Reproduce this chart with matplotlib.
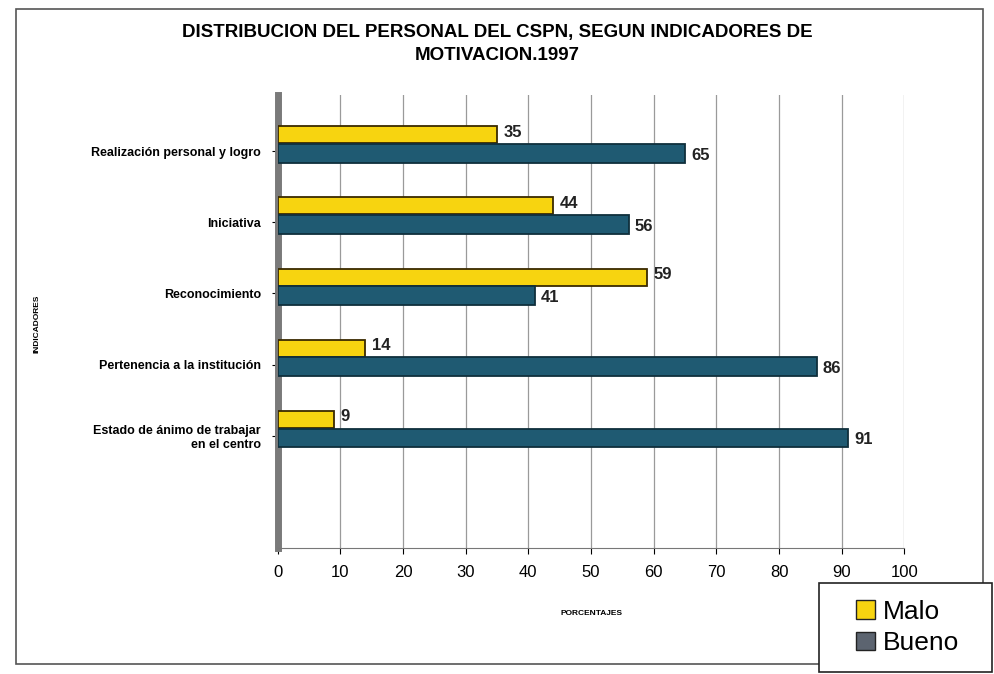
import matplotlib.pyplot as plt
import matplotlib.patches as mpatches
import numpy as np

plt.rcParams['font.family'] = ['Liberation Sans Narrow', 'Liberation Sans', 'DejaVu Sans']

categorias = ["Realización personal y logro", "Iniciativa", "Reconocimiento",
              "Pertenencia a la institución", "Estado de ánimo de trabajar\nen el centro"]
malo = [35, 44, 59, 14, 9]
bueno = [65, 56, 41, 86, 91]
ticks_x = list(range(0, 101, 10))

fig = plt.figure(figsize=(9.95, 6.74), dpi=100)
# chart border
fig.patches.append(mpatches.Rectangle((0.016, 0.015), 0.972, 0.972, transform=fig.transFigure,
                                      fill=False, edgecolor="#555555", linewidth=1.2))

ax = fig.add_axes([0.279, 0.187, 0.630, 0.672])
y = np.arange(len(categorias))
h = 0.24
ax.barh(y - 0.13, malo, height=h, color="#f7d410", edgecolor="#3a2a00", linewidth=1.3, zorder=3)
ax.barh(y + 0.13, bueno, height=h + 0.02, color="#1f5a72", edgecolor="#0f2f3c", linewidth=1.3, zorder=3)

for i in range(len(categorias)):
    ax.text(malo[i] + 1, y[i] - 0.17, str(malo[i]), va="center", ha="left",
            fontsize=12, fontweight="bold", color="#222222")
    ax.text(bueno[i] + 1, y[i] + 0.16, str(bueno[i]), va="center", ha="left",
            fontsize=12, fontweight="bold", color="#222222")

ax.set_ylim(5.68, -0.69)
ax.set_xlim(0, 100)
ax.set_yticks(y + 0.1)
ax.set_yticklabels(categorias, fontsize=9, fontweight="bold")
ax.set_xticks(ticks_x)
ax.set_xticklabels([str(t) for t in ticks_x], fontsize=12)
ax.tick_params(axis="y", length=4, pad=8)
ax.tick_params(axis="x", length=4, pad=8)
ax.grid(axis="x", color="#9a9a9a", linewidth=0.9, zorder=0)
for s in ["top", "right"]:
    ax.spines[s].set_visible(False)
ax.spines["left"].set_linewidth(5)
ax.spines["left"].set_color("#7a7a7a")
ax.spines["bottom"].set_color("#777777")

ax.set_xlabel("PORCENTAJES", fontsize=6, fontweight="bold", labelpad=22)
fig.text(0.037, 0.52, "INDICADORES", rotation=90, ha="center", va="center",
         fontsize=6, fontweight="bold")

fig.text(0.5, 0.965, "DISTRIBUCION DEL PERSONAL DEL CSPN, SEGUN INDICADORES DE\nMOTIVACION.1997",
         ha="center", va="top", fontsize=13.5, fontweight="bold", linespacing=1.5)

# legend box drawn separately, overlapping the chart border like the original
fig.patches.append(mpatches.Rectangle((0.823, 0.003), 0.174, 0.132, transform=fig.transFigure,
                                      facecolor="white", edgecolor="#222222", linewidth=1.2,
                                      zorder=5))
handles = [mpatches.Patch(facecolor="#f7d410", edgecolor="#222222", label="Malo"),
           mpatches.Patch(facecolor="#5c6470", edgecolor="#222222", label="Bueno")]
leg = fig.legend(handles=handles, loc="center", bbox_to_anchor=(0.912, 0.069),
                 fontsize=19, frameon=False, handlelength=0.7, handleheight=0.7,
                 handletextpad=0.3, labelspacing=0.3)
leg.set_zorder(6)

fig.savefig("out.png", dpi=100)
